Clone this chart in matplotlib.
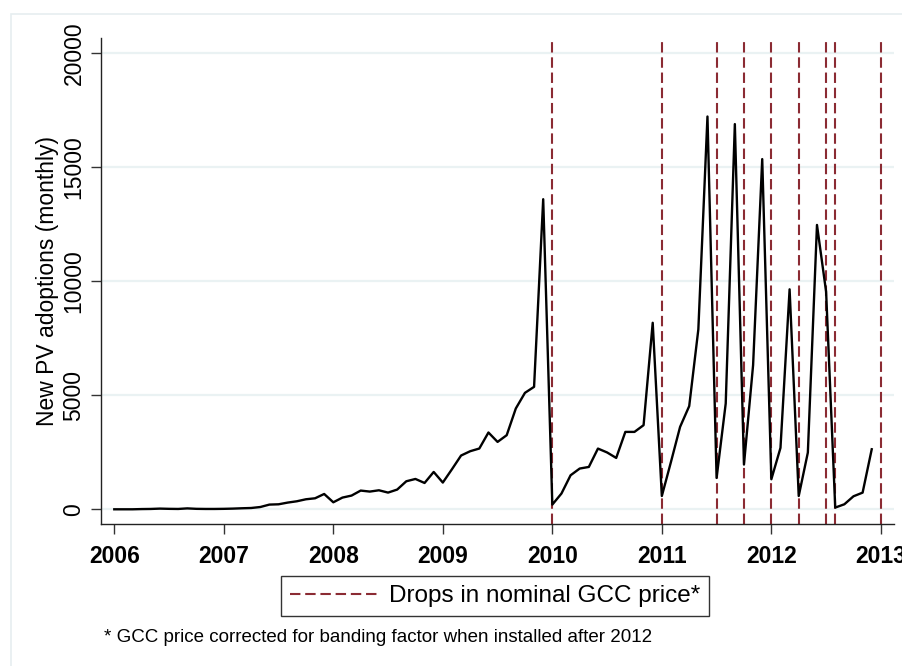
import matplotlib
matplotlib.use("Agg")
import matplotlib.pyplot as plt
import numpy as np
from matplotlib.patches import Rectangle

plt.rcParams['font.family'] = ['Liberation Sans', 'DejaVu Sans']

# monthly new PV adoptions, Jan 2006 .. Dec 2012
adoptions = [
    0, 0, 0, 10, 15, 30, 20, 15, 40, 20, 15, 15,                # 2006
    20, 30, 45, 57, 100, 206, 219, 294, 351, 439, 482, 671,     # 2007
    307, 513, 601, 820, 776, 833, 732, 864, 1228, 1329, 1153, 1636,   # 2008
    1171, 1754, 2355, 2544, 2662, 3364, 2952, 3246, 4417, 5101, 5364, 13583,  # 2009
    206, 690, 1490, 1785, 1855, 2660, 2490, 2250, 3390, 3390, 3685, 8170,   # 2010
    583, 2075, 3610, 4520, 7880, 17205, 1373, 4636, 16873, 1960, 6316, 15340,  # 2011
    1316, 2690, 9636, 583, 2487, 12456, 9530, 75, 220, 570, 730, 2630,   # 2012
]
start_year = 2006

# months where the nominal GCC price dropped (year, month)
drops = [(2010, 1), (2011, 1), (2011, 7), (2011, 10), (2012, 1),
         (2012, 4), (2012, 7), (2012, 8), (2013, 1)]

y_ticks = [0, 5000, 10000, 15000, 20000]
x_ticks = [2006, 2007, 2008, 2009, 2010, 2011, 2012, 2013]

legend_label = "Drops in nominal GCC price*"
footnote = "* GCC price corrected for banding factor when installed after 2012"

t = start_year + np.arange(len(adoptions)) / 12.0
drop_t = [y + (m - 1) / 12.0 for y, m in drops]

W, H = 902, 666
fig = plt.figure(figsize=(W / 100, H / 100), dpi=100)
ax = fig.add_axes([100.7 / W, 1 - 524 / H, (894 - 100.7) / W, (524 - 38) / H])

# faint outer region border
fig.patches.append(Rectangle((11 / W, -0.1), 1.2, 1.1 - 14 / H, transform=fig.transFigure,
                             fill=False, edgecolor='#e6eef0', linewidth=1.2))

grid_col = '#eaf2f3'
for v in y_ticks:
    ax.axhline(v, color=grid_col, lw=1.6, zorder=0)

ax.plot(t, adoptions, color='black', lw=1.7, zorder=3)

red = '#8b2b33'
for i, d in enumerate(drop_t):
    ax.axvline(d, color=red, lw=1.5, dashes=(5, 2.3), zorder=2,
               label=legend_label if i == 0 else None)

ax.set_xlim(2005.876, 2013.12)
ax.set_ylim(-644, 20644)

ax.spines['top'].set_visible(False)
ax.spines['right'].set_visible(False)
ax.spines['left'].set_color('#222222')
ax.spines['bottom'].set_color('#222222')
ax.spines['left'].set_linewidth(1.0)
ax.spines['bottom'].set_linewidth(1.0)

ax.set_yticks(y_ticks)
ax.set_yticklabels([str(v) for v in y_ticks], rotation=90, va='center', fontsize=16.5)
ax.set_xticks(x_ticks)
ax.set_xticklabels([str(v) for v in x_ticks], fontsize=16.5, fontweight='bold')
ax.tick_params(axis='both', length=7, width=1.0, color='#333333')
ax.tick_params(axis='y', pad=4)
ax.tick_params(axis='x', pad=8)

ax.set_ylabel("New PV adoptions (monthly)", fontsize=16.5, labelpad=2.5)

leg = fig.legend(loc='center', bbox_to_anchor=(495 / W, 1 - 596 / H), fontsize=17.5,
                 frameon=True, fancybox=False, handlelength=3.6, handletextpad=0.5,
                 borderpad=0.35, borderaxespad=0, edgecolor='black')
leg.get_frame().set_linewidth(1.0)

fig.text(104 / W, 1 - 638 / H, footnote, fontsize=13.5, va='center', ha='left')

fig.savefig("out.png", dpi=100)
